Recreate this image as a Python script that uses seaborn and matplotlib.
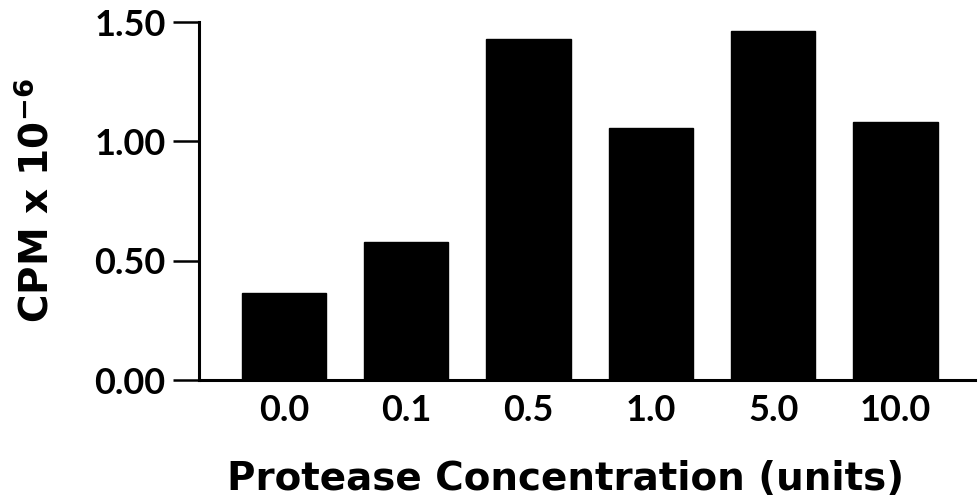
import matplotlib
matplotlib.use("Agg")
import matplotlib.pyplot as plt
import seaborn as sns
import pandas as pd

# values
concentrations = ["0.0", "0.1", "0.5", "1.0", "5.0", "10.0"]
cpm = [0.363, 0.579, 1.428, 1.057, 1.462, 1.080]
y_ticks = [0.0, 0.5, 1.0, 1.5]
y_tick_labels = ["0.00", "0.50", "1.00", "1.50"]

sns.set_theme(style="ticks")
plt.rcParams['font.family'] = ['Lato', 'DejaVu Sans']
plt.rcParams['mathtext.default'] = 'regular'

df = pd.DataFrame({"conc": concentrations, "cpm": cpm})

fig = plt.figure(figsize=(9.8, 5.04), dpi=100)
ax = fig.add_axes([0.203, 0.246, 0.792, 0.710])

sns.barplot(data=df, x="conc", y="cpm", color="black", width=0.69,
            saturation=1, edgecolor="black", ax=ax)

ax.set_ylim(0, 1.5)
ax.set_xlim(-0.695, 5.65)
ax.set_yticks(y_ticks)
ax.set_yticklabels(y_tick_labels)

sns.despine(ax=ax)
for side in ["left", "bottom"]:
    ax.spines[side].set_linewidth(2.2)
    ax.spines[side].set_color("black")

ax.tick_params(axis="y", length=19, width=1.8, color="black", pad=5,
               labelsize=26, labelcolor="black")
ax.tick_params(axis="x", length=0, pad=10, labelsize=26, labelcolor="black")
for lbl in ax.get_xticklabels() + ax.get_yticklabels():
    lbl.set_fontweight("bold")

ax.set_xlabel("Protease Concentration (units)", fontsize=28, labelpad=24,
              color="black", family=["DejaVu Sans"], fontweight="bold")
ax.xaxis.label.set_x(0.472)
ax.set_ylabel("CPM x 10$^{-6}$", fontsize=28, labelpad=27, color="black",
              family=["DejaVu Sans"], fontweight="bold")

fig.savefig("out.png", dpi=100, facecolor="white")
